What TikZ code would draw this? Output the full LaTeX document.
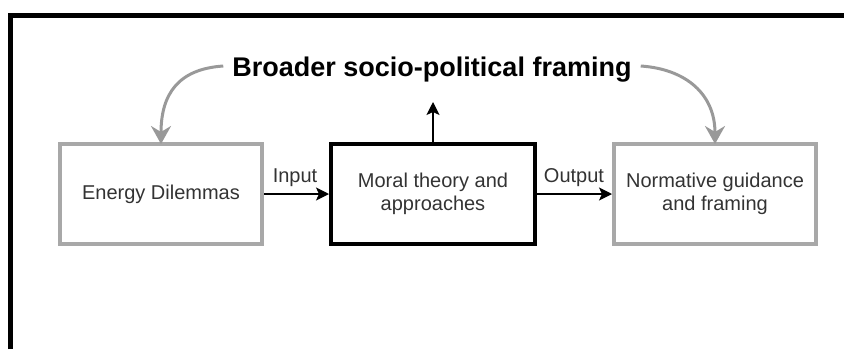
\documentclass[tikz,border=0pt]{standalone}
\usepackage{fontspec}
\setmainfont{Liberation Sans}
\usetikzlibrary{arrows.meta}
\definecolor{boxgray}{HTML}{A8A8A8}
\definecolor{curvegray}{HTML}{999999}
\definecolor{txtgray}{HTML}{333333}
\tikzset{
	sidebox/.style={draw=boxgray, line width=4pt, minimum width=202pt, minimum height=100pt, align=center, text=txtgray, font=\fontsize{20}{23}\selectfont},
	midbox/.style={sidebox, draw=black, minimum width=204pt},
	flowlabel/.style={text=txtgray, font=\fontsize{20}{23}\selectfont, inner sep=0pt},
	blackarrow/.style={line width=1.3pt, -{Stealth[length=13pt, width=13pt, inset=3pt]}},
	grayarrow/.style={curvegray, line width=3pt, -{Stealth[length=18pt, width=20pt, inset=6pt]}}
}
\begin{document}
\begin{tikzpicture}[x=1pt, y=-1pt]
		\useasboundingbox (0,0) rectangle (844,349);
		% Frame (cut at the page edge)
		\draw[line width=5pt] (10,349) -- (10,15.5) -- (844,15.5);
		% Boxes
		\node[sidebox] (dilem) at (161,194) {Energy Dilemmas};
		\node[midbox] (moral) at (433,194) {Moral theory and\\approaches};
		\node[sidebox] (norm) at (715,194) {Normative guidance\\and framing};
		% Framing
		\node[font=\bfseries\fontsize{27}{31}\selectfont, inner sep=9pt] (frame) at (432,70) {Broader socio-political framing};
		% Flow
		\draw[blackarrow] (dilem.east) -- (moral.west);
		\draw[blackarrow] (moral.east) -- (norm.west);
		\node[flowlabel] (inlab) at (295,178) {Input};
		\node[flowlabel] (outlab) at (574,178) {Output};
		\draw[blackarrow] (moral.north) -- (433,102);
		\draw[grayarrow] ([yshift=4pt]frame.west) .. controls +(-45,3) and +(0,-50) .. ([yshift=-2pt]dilem.north);
		\draw[grayarrow] ([yshift=4pt]frame.east) .. controls +(45,3) and +(0,-50) .. ([yshift=-2pt]norm.north);
	\end{tikzpicture}
\end{document}
